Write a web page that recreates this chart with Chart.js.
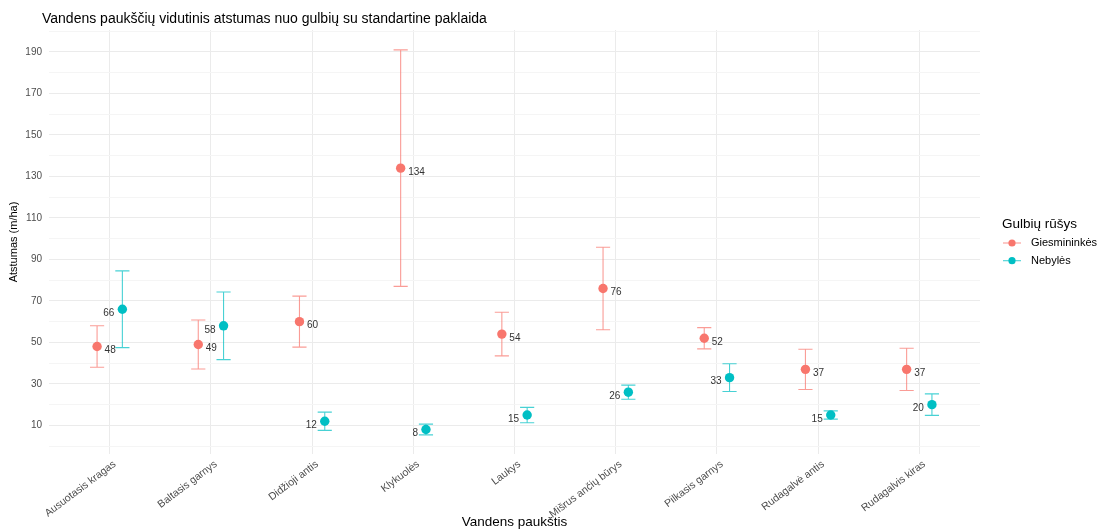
<!DOCTYPE html>
<html>
<head>
<meta charset="utf-8">
<script src="https://cdn.jsdelivr.net/npm/chart.js@4.4.1/dist/chart.umd.min.js"></script>
<style>
  html, body { margin: 0; padding: 0; background: #ffffff; }
  #wrap { width: 1097px; height: 530px; position: relative; }
</style>
</head>
<body>
<div id="wrap"><canvas id="chart"></canvas></div>
<script>
// Water birds (x categories)
const categories = ['Ausuotasis kragas', 'Baltasis garnys', 'Didžioji antis', 'Klykuolės', 'Laukys',
                    'Mišrus ančių būrys', 'Pilkasis garnys', 'Rudagalvė antis', 'Rudagalvis kiras'];
const seriesNames = ['Giesmininkės', 'Nebylės'];

// Mean distance and standard error per swan species
const giesmMean = [48, 49, 60, 134, 54, 76, 52, 37, 37];
const giesmErr  = [10, 11.8, 12.3, 57, 10.5, 19.9, 5.1, 9.7, 10.2];
const nebylMean = [66, 58, 12, 8, 15, 26, 33, 15, 20];
const nebylErr  = [18.5, 16.3, 4.4, 2.6, 3.7, 3.4, 6.7, 2, 5.2];

// Y grid lines; only every other one carries a label
const yGrid = [0, 10, 20, 30, 40, 50, 60, 70, 80, 90, 100, 110, 120, 130, 140, 150, 160, 170, 180, 190, 200];
const yLabels = [10, 30, 50, 70, 90, 110, 130, 150, 170, 190];

const colors = ['#F8766D', '#00BFC4'];
const barColors = ['rgba(248,118,109,0.72)', 'rgba(0,191,196,0.72)'];
const dodge = [-0.125, 0.125];
const means = [giesmMean, nebylMean];
const errs = [giesmErr, nebylErr];

const FONT = '"Liberation Sans", Arial, sans-serif';

const datasets = seriesNames.map((name, s) => ({
  label: name,
  data: means[s].map((v, i) => ({ x: i + 1 + dodge[s], y: v, err: errs[s][i] })),
  backgroundColor: colors[s],
  borderWidth: 0,
  pointRadius: 4.7,
  pointHoverRadius: 4.7,
  showLine: false
}));

// Error bars drawn behind the points
const errorBars = {
  id: 'errorBars',
  beforeDatasetsDraw(chart) {
    const { ctx, scales: { x, y } } = chart;
    ctx.save();
    ctx.lineWidth = 1.1;
    chart.data.datasets.forEach((ds, s) => {
      ctx.strokeStyle = barColors[s];
      ds.data.forEach(p => {
        const px = x.getPixelForValue(p.x);
        const x0 = x.getPixelForValue(p.x - 0.07);
        const x1 = x.getPixelForValue(p.x + 0.07);
        const yt = y.getPixelForValue(p.y + p.err);
        const yb = y.getPixelForValue(p.y - p.err);
        ctx.beginPath();
        ctx.moveTo(px, yt); ctx.lineTo(px, yb);
        ctx.moveTo(x0, yt); ctx.lineTo(x1, yt);
        ctx.moveTo(x0, yb); ctx.lineTo(x1, yb);
        ctx.stroke();
      });
    });
    ctx.restore();
  }
};

// Mean value labels: first series to the right, second to the left
const valueLabels = {
  id: 'valueLabels',
  afterDatasetsDraw(chart) {
    const { ctx, scales: { x, y } } = chart;
    ctx.save();
    ctx.font = '10px ' + FONT;
    ctx.fillStyle = '#333333';
    ctx.textBaseline = 'middle';
    chart.data.datasets.forEach((ds, s) => {
      ds.data.forEach(p => {
        const px = x.getPixelForValue(p.x);
        const py = y.getPixelForValue(p.y);
        if (s === 0) { ctx.textAlign = 'left'; ctx.fillText(String(p.y), px + 7.5, py + 4); }
        else { ctx.textAlign = 'right'; ctx.fillText(String(p.y), px - 8, py + 4); }
      });
    });
    ctx.restore();
  }
};

// Title, axis titles and legend
const decorations = {
  id: 'decorations',
  afterDraw(chart) {
    const { ctx, chartArea: a } = chart;
    ctx.save();
    ctx.fillStyle = '#000000';
    ctx.textBaseline = 'middle';
    ctx.textAlign = 'left';
    ctx.font = '14px ' + FONT;
    ctx.fillText('Vandens paukščių vidutinis atstumas nuo gulbių su standartine paklaida', 42, 19.5);

    ctx.textAlign = 'center';
    ctx.font = '13.5px ' + FONT;
    ctx.fillText('Vandens paukštis', (a.left + a.right) / 2, 522);

    ctx.save();
    ctx.translate(14, (a.top + a.bottom) / 2);
    ctx.rotate(-Math.PI / 2);
    ctx.font = '11px ' + FONT;
    ctx.fillText('Atstumas (m/ha)', 0, 0);
    ctx.restore();

    // legend
    ctx.textAlign = 'left';
    ctx.font = '13.5px ' + FONT;
    ctx.fillText('Gulbių rūšys', 1002, 224);
    ctx.font = '11px ' + FONT;
    seriesNames.forEach((name, s) => {
      const cy = 243 + s * 17.7;
      ctx.strokeStyle = barColors[s];
      ctx.lineWidth = 1.1;
      ctx.beginPath(); ctx.moveTo(1003, cy); ctx.lineTo(1021, cy); ctx.stroke();
      ctx.fillStyle = colors[s];
      ctx.beginPath(); ctx.arc(1012, cy, 3.6, 0, Math.PI * 2); ctx.fill();
      ctx.fillStyle = '#000000';
      ctx.fillText(name, 1031, cy);
    });
    ctx.restore();
  }
};

new Chart(document.getElementById('chart'), {
  type: 'scatter',
  data: { datasets },
  plugins: [errorBars, valueLabels, decorations],
  options: {
    responsive: true,
    maintainAspectRatio: false,
    animation: false,
    layout: { padding: { left: 0, top: 30, right: 117, bottom: 0 } },
    plugins: { legend: { display: false }, tooltip: { enabled: false }, title: { display: false } },
    scales: {
      x: {
        type: 'linear',
        min: 0.4,
        max: 9.6,
        afterBuildTicks: axis => { axis.ticks = categories.map((c, i) => ({ value: i + 1 })); },
        afterFit: axis => { axis.height = 76; },
        border: { display: false },
        grid: { color: '#ebebeb', lineWidth: 1, drawTicks: false },
        ticks: {
          autoSkip: false,
          minRotation: 37,
          maxRotation: 37,
          padding: 4,
          labelOffset: 5,
          color: '#4d4d4d',
          font: { family: FONT, size: 10.5 },
          callback: v => categories[Math.round(v) - 1]
        }
      },
      y: {
        min: -3.8,
        max: 200.6,
        afterBuildTicks: axis => { axis.ticks = yGrid.map(v => ({ value: v })); },
        afterFit: axis => { axis.width = 49; },
        border: { display: false },
        grid: {
          drawTicks: false,
          lineWidth: 1,
          color: ctx => (yLabels.includes(ctx.tick.value) ? '#ebebeb' : '#f5f5f5')
        },
        ticks: {
          autoSkip: false,
          padding: 7,
          color: '#4d4d4d',
          font: { family: FONT, size: 10 },
          callback: v => (yLabels.includes(v) ? String(v) : '')
        }
      }
    }
  }
});
</script>
</body>
</html>
